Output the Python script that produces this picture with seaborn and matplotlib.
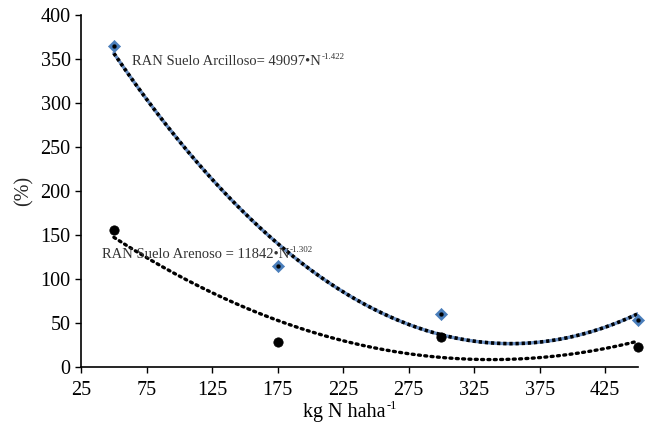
import numpy as np
import pandas as pd
import matplotlib
matplotlib.use("Agg")
import matplotlib.pyplot as plt
import seaborn as sns

# --- data ---
dosis_n = [50, 175, 300, 450]
ran_arcilloso = [365, 115, 60, 54]
ran_arenoso = [156, 28, 34, 23]

x_ticks = [25, 75, 125, 175, 225, 275, 325, 375, 425]
y_ticks = [0, 50, 100, 150, 200, 250, 300, 350, 400]

lbl_arcilloso = ("RAN Suelo Arcilloso= 49097•N", "-1.422")
lbl_arenoso = ("RAN Suelo Arenoso = 11842•N", "-1.302")
lbl_x = ("kg N haha", "-1")

sns.set_style("ticks")
plt.rcParams["font.family"] = ["Liberation Serif", "DejaVu Serif"]

df = pd.DataFrame({"N": dosis_n, "arcilloso": ran_arcilloso, "arenoso": ran_arenoso})

fig = plt.figure(figsize=(6.49, 4.23), dpi=100)
ax = fig.add_axes([0.125, 0.132, 0.858, 0.833])

# polynomial (2nd order) trend lines, as in the spreadsheet chart
xs = np.linspace(min(dosis_n), max(dosis_n), 300)
fit_arc = np.polyval(np.polyfit(df["N"], df["arcilloso"], 2), xs)
fit_are = np.polyval(np.polyfit(df["N"], df["arenoso"], 2), xs)

sns.lineplot(x=xs, y=fit_arc, ax=ax, color="#6a90c4", linewidth=2.4, zorder=2)
sns.lineplot(x=xs, y=fit_arc, ax=ax, color="black", linewidth=2.6,
             linestyle=(0, (0.9, 0.8)), zorder=3)
sns.lineplot(x=xs, y=fit_are, ax=ax, color="black", linewidth=2.4,
             linestyle=(0, (0.6, 1.3)), dash_capstyle="round", zorder=3)

# markers
sns.scatterplot(data=df, x="N", y="arcilloso", ax=ax, marker="D", s=38,
                color="#4a7ebb", edgecolor="#4a7ebb", zorder=4, clip_on=False)
sns.scatterplot(data=df, x="N", y="arcilloso", ax=ax, marker="o", s=8,
                color="black", edgecolor="black", zorder=5, clip_on=False)
sns.scatterplot(data=df, x="N", y="arenoso", ax=ax, marker="o", s=45,
                color="black", edgecolor="black", zorder=4, clip_on=False)

ax.set_xlim(25, 450)
ax.set_ylim(0, 400)
ax.set_xticks(x_ticks)
ax.set_yticks(y_ticks)
ax.tick_params(labelsize=14.5, length=4, width=1, direction="out", colors="black")
ax.tick_params(axis="x", pad=6)
ax.set_xlabel("")
ax.set_ylabel("(%)", fontsize=14.5, labelpad=5)
for side in ["top", "right"]:
    ax.spines[side].set_visible(False)
for side in ["left", "bottom"]:
    ax.spines[side].set_linewidth(1.2)
    ax.spines[side].set_color("black")


def sup_text(x, y, parts, size, transform, color, ha="left"):
    """main text followed by a small raised exponent (pixel placement)"""
    if transform is not None:
        x, y = transform.transform((x, y))
    t = fig.text(x, y, parts[0], fontsize=size, color=color, va="baseline",
                 ha="left", transform=None, zorder=6)
    fig.canvas.draw()
    bb = t.get_window_extent()
    px = size * fig.dpi / 72.0
    s = fig.text(bb.x1 + 0.5, y + px * 0.38, parts[1], fontsize=size * 0.62,
                 color=color, va="baseline", ha="left", transform=None, zorder=6)
    if ha == "center":
        fig.canvas.draw()
        shift = (s.get_window_extent().x1 - bb.x0) / 2
        t.set_x(x - shift)
        s.set_x(bb.x1 + 0.5 - shift)
    return t, s


fig.canvas.draw()
sup_text(64, 343, lbl_arcilloso, 10.5, ax.transData, "#333333")
sup_text(41, 124, lbl_arenoso, 10.5, ax.transData, "#333333")

# x-axis title with a raised exponent, centred a little left of the axes middle
sup_text(350, 6, lbl_x, 14.5, None, "black", ha="center")

fig.savefig("out.png", dpi=100)
